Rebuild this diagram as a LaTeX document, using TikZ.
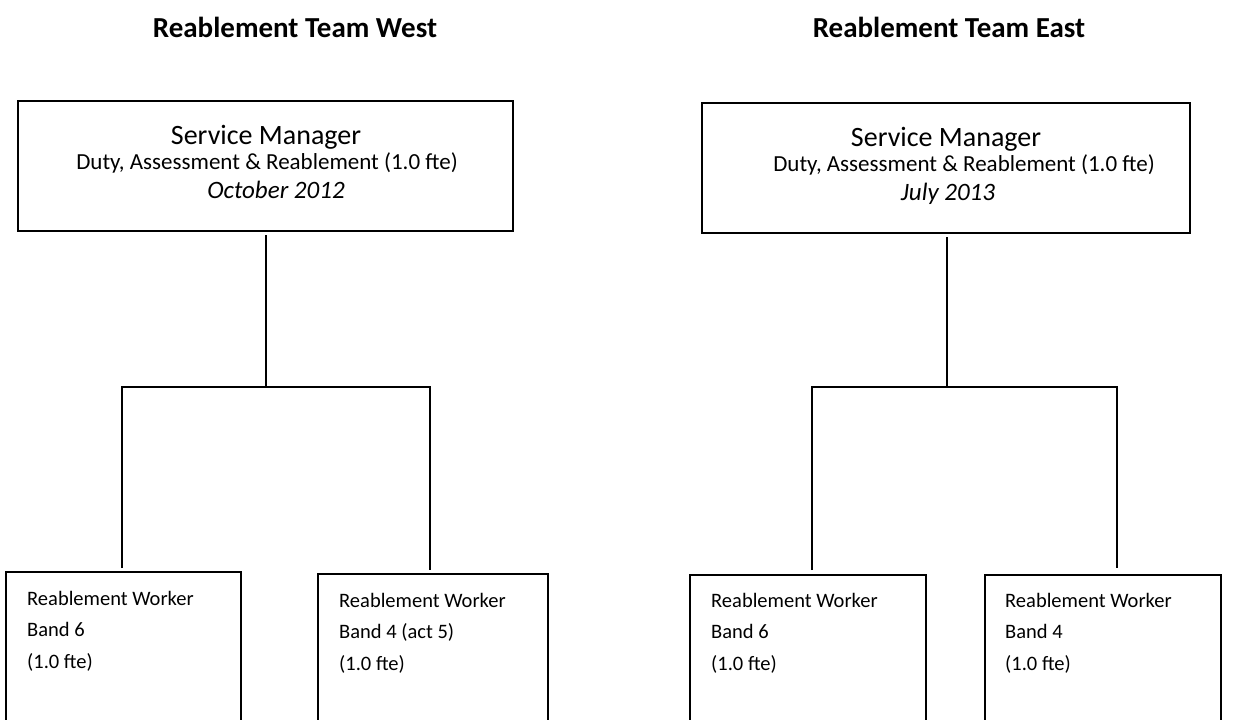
\documentclass[tikz,border=0pt]{standalone}
\usepackage{fontspec}
\setmainfont{Carlito}
\begin{document}
\begin{tikzpicture}[x=1pt,y=-1pt,
  box/.style={draw=black,line width=2pt,rectangle,anchor=north west,inner sep=0pt,outer sep=0pt},
  conn/.style={draw=black,line width=1.8pt},
  thin/.style={draw=black,line width=1.1pt},
  title/.style={anchor=base,inner sep=0pt,font=\fontsize{29}{34}\selectfont\bfseries},
  smname/.style={anchor=base,inner sep=0pt,font=\fontsize{28}{34}\selectfont},
  smsub/.style={anchor=base,inner sep=0pt,font=\fontsize{23}{27}\selectfont},
  smdate/.style={anchor=base,inner sep=0pt,font=\fontsize{25}{30}\selectfont\itshape},
  worker/.style={anchor=north west,inner sep=0pt,align=left,font=\fontsize{20.5}{31.5}\selectfont}
]
\useasboundingbox (0,0) rectangle (1245,720);
\clip (0,0) rectangle (1245,720);
\fill[white] (0,0) rectangle (1245,720);

% titles
\node[title] (tw) at (295,37) {Reablement Team West};
\node[title] (te) at (949,37) {Reablement Team East};

% West service manager
\node[box,minimum width=495pt,minimum height=130pt] (wsm) at (18,101) {};
\node[smname] (wsm1) at (266,144) {Service Manager};
\node[smsub] (wsm2) at (267,169) {Duty, Assessment \& Reablement (1.0 fte)};
\node[smdate] (wsm3) at (276,198) {October 2012};

% East service manager
\node[box,minimum width=488pt,minimum height=130pt] (esm) at (702,103) {};
\node[smname] (esm1) at (946,146) {Service Manager};
\node[smsub] (esm2) at (964,171) {Duty, Assessment \& Reablement (1.0 fte)};
\node[smdate] (esm3) at (948,200) {July 2013};

% West workers
\node[box,minimum width=235pt,minimum height=170pt] (w1) at (6,572) {};
\node[worker] (w1t) at (27,591) {Reablement Worker\\Band 6\\(1.0 fte)};
\node[box,minimum width=230pt,minimum height=170pt] (w2) at (318,574) {};
\node[worker] (w2t) at (339,593) {Reablement Worker\\Band 4 (act 5)\\(1.0 fte)};

% East workers
\node[box,minimum width=236pt,minimum height=170pt] (e1) at (690,575) {};
\node[worker] (e1t) at (711,593) {Reablement Worker\\Band 6\\(1.0 fte)};
\node[box,minimum width=236pt,minimum height=170pt] (e2) at (985,575) {};
\node[worker] (e2t) at (1005,593) {Reablement Worker\\Band 4\\(1.0 fte)};

% West connectors
\coordinate (wtop) at (266,235);
\coordinate (wmid) at (266,387);
\coordinate (wl) at (122,387);
\coordinate (wr) at (430,387);
\coordinate (wld) at (122,568);
\coordinate (wrd) at (430,570);
\draw[thin] (wtop) -- (wmid);
\draw[conn] (wld) -- (wl) -- (wr) -- (wrd);

% East connectors
\coordinate (etop) at (947,237);
\coordinate (emid) at (947,387);
\coordinate (el) at (812,387);
\coordinate (er) at (1117,387);
\coordinate (eld) at (812,570);
\coordinate (erd) at (1117,568);
\draw[thin] (etop) -- (emid);
\draw[conn] (eld) -- (el) -- (er) -- (erd);
\end{tikzpicture}
\end{document}
